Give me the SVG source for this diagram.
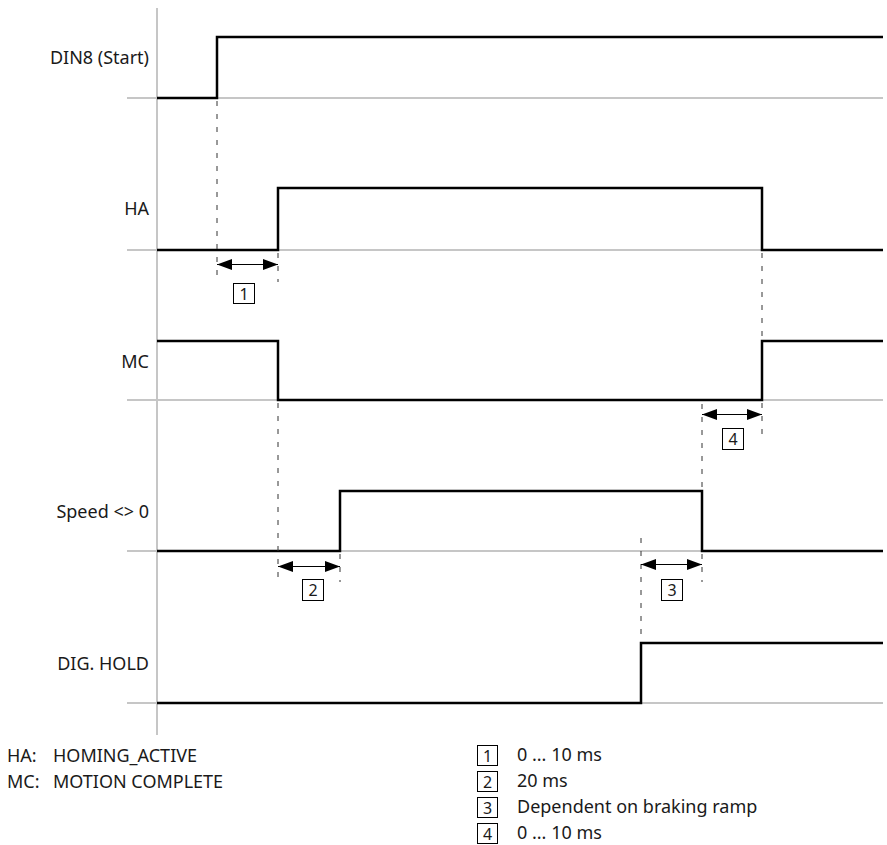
<svg xmlns="http://www.w3.org/2000/svg" width="887" height="845" viewBox="0 0 887 845">
<style>
text{font-family:"Noto Sans","Open Sans","Liberation Sans",sans-serif;font-size:18px;fill:#1a1a1a}
.lbl{text-anchor:end}
.grid{stroke:#c6c6c6;stroke-width:2;fill:none}
.sig{stroke:#000;stroke-width:2.5;fill:none;stroke-linejoin:miter}
.dash{stroke:#333;stroke-width:1;stroke-dasharray:5 8;fill:none}
.arr{stroke:#000;stroke-width:1;fill:none;marker-start:url(#ah);marker-end:url(#ah)}
.box{fill:#fff;stroke:#000;stroke-width:1}
.num{text-anchor:middle;font-size:16px}
</style>
<defs>
<marker id="ah" viewBox="0 0 15 11" refX="15" refY="5.5" markerWidth="15" markerHeight="11" markerUnits="userSpaceOnUse" orient="auto-start-reverse">
<path d="M0,0 L15,5.5 L0,11 Z" fill="#000"/>
</marker>
</defs>
<g id="grid">
<line class="grid" x1="157" y1="8" x2="157" y2="735"/>
<line class="grid" x1="127" y1="98" x2="883" y2="98"/>
<line class="grid" x1="127" y1="250" x2="883" y2="250"/>
<line class="grid" x1="127" y1="400" x2="883" y2="400"/>
<line class="grid" x1="127" y1="551" x2="883" y2="551"/>
<line class="grid" x1="127" y1="703" x2="883" y2="703"/>
</g>
<g id="din8">
<text class="lbl" x="149" y="64">DIN8 (Start)</text>
<polyline class="sig" points="157,98 217,98 217,37 883,37"/>
</g>
<g id="ha">
<text class="lbl" x="149" y="215">HA</text>
<polyline class="sig" points="157,250 278,250 278,188 762,188 762,250 883,250"/>
</g>
<g id="mc">
<text class="lbl" x="149" y="368">MC</text>
<polyline class="sig" points="157,341 278,341 278,400 762,400 762,341 883,341"/>
</g>
<g id="speed">
<text class="lbl" x="149" y="518">Speed &lt;&gt; 0</text>
<polyline class="sig" points="157,551 340,551 340,491 702,491 702,551 883,551"/>
</g>
<g id="dighold">
<text class="lbl" x="149" y="670">DIG. HOLD</text>
<polyline class="sig" points="157,703 641,703 641,643 883,643"/>
</g>
<g id="connectors">
<line class="dash" x1="217" y1="101" x2="217" y2="282"/>
<line class="dash" x1="278" y1="253" x2="278" y2="282"/>
<line class="dash" x1="278" y1="403" x2="278" y2="582"/>
<line class="dash" x1="340" y1="554" x2="340" y2="582"/>
<line class="dash" x1="762" y1="253" x2="762" y2="340"/>
<line class="dash" x1="762" y1="403" x2="762" y2="434"/>
<line class="dash" x1="702" y1="404" x2="702" y2="490"/>
<line class="dash" x1="702" y1="554" x2="702" y2="582"/>
<line class="dash" x1="641" y1="538" x2="641" y2="642"/>
<line class="arr" x1="217" y1="264.5" x2="278" y2="264.5"/>
<line class="arr" x1="278" y1="566.5" x2="340" y2="566.5"/>
<line class="arr" x1="641" y1="564.5" x2="702" y2="564.5"/>
<line class="arr" x1="702" y1="414.5" x2="762" y2="414.5"/>
</g>
<g id="tag1"><rect class="box" x="233.5" y="283.5" width="21" height="20"/><text class="num" x="244" y="299.5">1</text></g>
<g id="tag2"><rect class="box" x="302.5" y="579.5" width="21" height="21"/><text class="num" x="313" y="596">2</text></g>
<g id="tag3"><rect class="box" x="661.5" y="579.5" width="21" height="21"/><text class="num" x="672" y="596">3</text></g>
<g id="tag4"><rect class="box" x="722.5" y="428.5" width="21" height="21"/><text class="num" x="733" y="445">4</text></g>
<g id="legend-left">
<text x="7" y="762">HA:</text><text x="53" y="762">HOMING_ACTIVE</text>
<text x="7" y="788">MC:</text><text x="53" y="788">MOTION COMPLETE</text>
</g>
<g id="legend-right">
<rect class="box" x="477.5" y="745.5" width="20" height="20"/><text class="num" x="487.5" y="761.5">1</text><text x="517" y="761">0 ... 10 ms</text>
<rect class="box" x="477.5" y="771.5" width="20" height="20"/><text class="num" x="487.5" y="787.5">2</text><text x="517" y="787">20 ms</text>
<rect class="box" x="477.5" y="797.5" width="20" height="20"/><text class="num" x="487.5" y="813.5">3</text><text x="517" y="813">Dependent on braking ramp</text>
<rect class="box" x="477.5" y="823.5" width="20" height="20"/><text class="num" x="487.5" y="839.5">4</text><text x="517" y="839">0 ... 10 ms</text>
</g>
</svg>
